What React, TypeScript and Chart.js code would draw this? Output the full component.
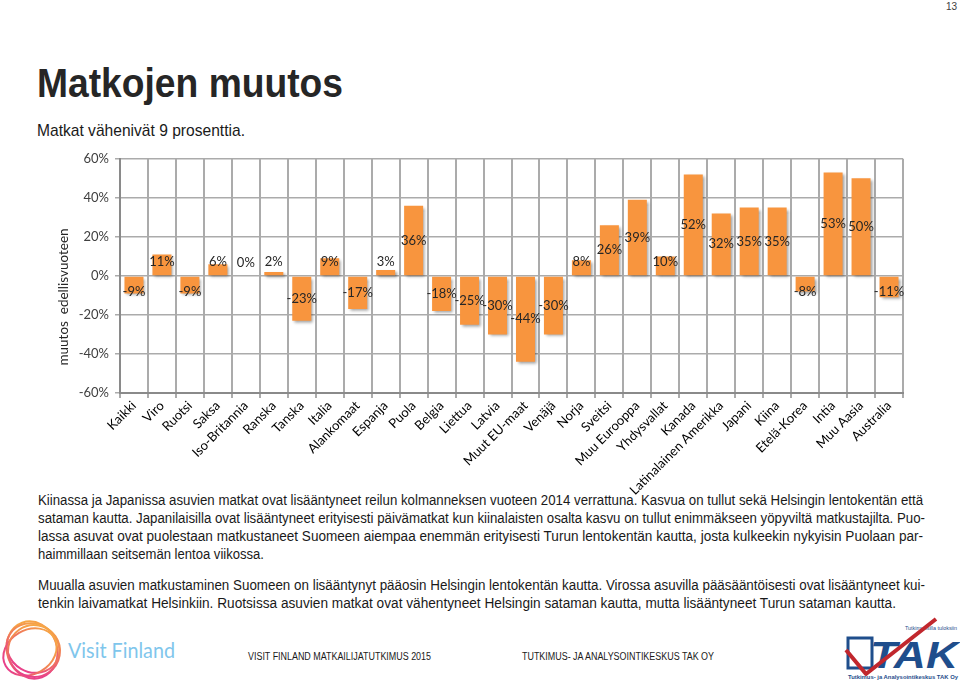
import React, { useEffect, useRef } from "react";
import { Chart, registerables } from "chart.js";

Chart.register(...registerables);

const categories = [
  "Kaikki", "Viro", "Ruotsi", "Saksa", "Iso-Britannia", "Ranska", "Tanska",
  "Italia", "Alankomaat", "Espanja", "Puola", "Belgia", "Liettua", "Latvia",
  "Muut EU-maat", "Venäjä", "Norja", "Sveitsi", "Muu Eurooppa", "Yhdysvallat",
  "Kanada", "Latinalainen Amerikka", "Japani", "Kiina", "Etelä-Korea", "Intia",
  "Muu Aasia", "Australia",
];
const changePct = [
  -9, 11, -9, 6, 0, 2, -23, 9, -17, 3, 36, -18, -25, -30, -44, -30, 8, 26, 39,
  10, 52, 32, 35, 35, -8, 53, 50, -11,
];
const yTicks = [-60, -40, -20, 0, 20, 40, 60];
const yAxisTitle = "muutos  edellisvuoteen";

const pageTitle = "Matkojen muutos";
const pageSubtitle = "Matkat vähenivät 9 prosenttia.";
const paragraphLines = [
  "Kiinassa ja Japanissa asuvien matkat ovat lisääntyneet reilun kolmanneksen vuoteen 2014 verrattuna. Kasvua on tullut sekä Helsingin lentokentän että",
  "sataman kautta. Japanilaisilla ovat lisääntyneet erityisesti päivämatkat kun kiinalaisten osalta kasvu on tullut enimmäkseen yöpyviltä matkustajilta. Puo-",
  "lassa asuvat ovat puolestaan matkustaneet Suomeen aiempaa enemmän erityisesti Turun lentokentän kautta, josta kulkeekin nykyisin Puolaan par-",
  "haimmillaan seitsemän lentoa viikossa.",
  "Muualla asuvien matkustaminen Suomeen on lisääntynyt pääosin Helsingin lentokentän kautta. Virossa asuvilla pääsääntöisesti ovat lisääntyneet kui-",
  "tenkin laivamatkat Helsinkiin. Ruotsissa asuvien matkat ovat vähentyneet Helsingin sataman kautta, mutta lisääntyneet Turun sataman kautta.",
];
const lineBaselines = [505, 523, 541, 559, 590, 608];
const lineEnds = [923, 925, 923, 264, 925, 896];

const footerLeft = "VISIT FINLAND MATKAILIJATUTKIMUS 2015";
const footerRight = "TUTKIMUS- JA ANALYSOINTIKESKUS TAK OY";

const CANVAS_TOP = 145;

function ChartCanvas() {
  const ref = useRef<HTMLCanvasElement | null>(null);
  useEffect(() => {
    const canvas = ref.current;
    if (!canvas) return;

    const barDecor = {
      id: "barDecor",
      beforeDatasetsDraw(chart: any) {
        const ctx = chart.ctx;
        ctx.save();
        ctx.shadowColor = "rgba(0,0,0,0.38)";
        ctx.shadowBlur = 3;
        ctx.shadowOffsetX = 2;
        ctx.shadowOffsetY = 2;
      },
      afterDatasetsDraw(chart: any) {
        const ctx = chart.ctx;
        ctx.restore();
        const meta = chart.getDatasetMeta(0);
        const data = chart.data.datasets[0].data as number[];
        ctx.save();
        ctx.font = "13px Lato";
        ctx.fillStyle = "#262626";
        ctx.textAlign = "center";
        ctx.textBaseline = "middle";
        meta.data.forEach((bar: any, i: number) => {
          const v = data[i];
          const base = bar.base;
          let y = (bar.y + base) / 2;
          if (v >= 0) y = Math.min(y, base - 13);
          else y = Math.max(y, base + 15);
          ctx.fillText(v + "%", bar.x, y);
        });
        ctx.restore();
      },
    };

    const yTitle = {
      id: "yTitle",
      afterDraw(chart: any) {
        const ctx = chart.ctx;
        ctx.save();
        ctx.translate(64, 297 - CANVAS_TOP);
        ctx.rotate(-Math.PI / 2);
        ctx.font = "13.5px Lato";
        ctx.fillStyle = "#262626";
        ctx.textAlign = "center";
        ctx.textBaseline = "middle";
        ctx.fillText(yAxisTitle, 0, 0);
        ctx.restore();
      },
    };

    const chart = new Chart(canvas, {
      type: "bar",
      data: {
        labels: categories,
        datasets: [
          {
            data: changePct,
            backgroundColor: "#F8953E",
            borderWidth: 0,
            barPercentage: 0.68,
            categoryPercentage: 1,
          },
        ],
      },
      options: {
        animation: false,
        responsive: false,
        maintainAspectRatio: false,
        layout: { padding: { left: 40, right: 57, top: 10, bottom: 0 } },
        plugins: {
          legend: { display: false },
          tooltip: { enabled: false },
          title: { display: false },
        },
        scales: {
          x: {
            offset: true,
            grid: {
              display: true,
              drawOnChartArea: true,
              drawTicks: true,
              color: "#ABABAB",
              lineWidth: 2,
              offset: true,
              tickLength: 5,
            },
            border: { display: true, color: "#8A8A8A", width: 2 },
            ticks: {
              autoSkip: false,
              maxRotation: 45,
              minRotation: 45,
              font: { family: "Lato", size: 13 },
              color: "#000000",
              padding: 0,
            },
            afterFit: (s: any) => {
              s.height = 112;
            },
          },
          y: {
            min: -60,
            max: 60,
            afterBuildTicks: (s: any) => {
              s.ticks = yTicks.map((v) => ({ value: v }));
            },
            ticks: {
              callback: (v: any) => v + "%",
              font: { family: "Lato", size: 13 },
              color: "#404040",
              padding: 6,
            },
            grid: { color: "#ABABAB", lineWidth: 1.5, tickLength: 5 },
            border: { display: true, color: "#8A8A8A", width: 2 },
            afterFit: (s: any) => {
              s.width = 80;
            },
          },
        },
      },
      plugins: [barDecor, yTitle],
    } as any);
    return () => chart.destroy();
  }, []);
  return (
    <canvas
      ref={ref}
      width={960}
      height={360}
      style={{ position: "absolute", left: 0, top: CANVAS_TOP, width: 960, height: 360 }}
    />
  );
}

function VisitLogo() {
  const rings = [
    { rx: 25, ry: 29, rot: -20, cx: 32, cy: 650 },
    { rx: 27, ry: 24, rot: 30, cx: 33, cy: 648 },
    { rx: 22, ry: 28, rot: 60, cx: 30, cy: 652 },
    { rx: 26, ry: 26, rot: 10, cx: 34, cy: 651 },
  ];
  return (
    <g>
      <defs>
        <linearGradient id="vfg" x1="0" y1="0" x2="0" y2="1">
          <stop offset="0" stopColor="#F6A646" />
          <stop offset="0.5" stopColor="#F07A5A" />
          <stop offset="1" stopColor="#E8408A" />
        </linearGradient>
      </defs>
      {rings.map((r, i) => (
        <ellipse
          key={i}
          cx={r.cx}
          cy={r.cy}
          rx={r.rx}
          ry={r.ry}
          transform={`rotate(${r.rot} ${r.cx} ${r.cy})`}
          fill="none"
          stroke="url(#vfg)"
          strokeWidth={2}
        />
      ))}
      <text x={68} y={658} fontFamily="Lato" fontSize={21} fill="#7FC6EC" textLength={107} lengthAdjust="spacingAndGlyphs">
        Visit Finland
      </text>
    </g>
  );
}

function TakLogo() {
  return (
    <g>
      <text x={905} y={630} fontFamily="Liberation Sans" fontSize={5} fill="#1F4E8C" textLength={52} lengthAdjust="spacingAndGlyphs">
        Tutkimuksilla tuloksiin
      </text>
      <path d="M 848 638 L 872 638 L 872 668 L 848 668 Z" fill="none" stroke="#1F4E8C" strokeWidth={3} />
      <text x={870} y={668} fontFamily="Liberation Sans" fontWeight="bold" fontStyle="italic" fontSize={36} fill="#1F4E8C" textLength={88} lengthAdjust="spacingAndGlyphs">
        TAK
      </text>
      <path d="M 846 650 L 866 674 L 936 619" fill="none" stroke="#C1272D" strokeWidth={4} strokeLinejoin="round" />
      <text x={848} y={679} fontFamily="Liberation Sans" fontWeight="bold" fontSize={5} fill="#1F4E8C" textLength={110} lengthAdjust="spacingAndGlyphs">
        Tutkimus- ja Analysointikeskus TAK Oy
      </text>
    </g>
  );
}

export default function App() {
  return (
    <div
      style={{
        position: "fixed",
        left: 0,
        top: 0,
        width: 960,
        height: 681,
        overflow: "hidden",
        background: "#ffffff",
      }}
    >
      <svg
        width={960}
        height={681}
        style={{ position: "absolute", left: 0, top: 0 }}
      >
        <text x={946} y={10} fontFamily="Liberation Sans" fontSize={10} fill="#404040">
          13
        </text>
        <text x={37} y={97} fontFamily="Liberation Sans" fontWeight="bold" fontSize={40} fill="#262626" textLength={306} lengthAdjust="spacingAndGlyphs">
          {pageTitle}
        </text>
        <text x={37} y={136} fontFamily="Liberation Sans" fontSize={17} fill="#1a1a1a" textLength={208} lengthAdjust="spacingAndGlyphs">
          {pageSubtitle}
        </text>
        {paragraphLines.map((line, i) => (
          <text
            key={i}
            x={38}
            y={lineBaselines[i]}
            fontFamily="Liberation Sans"
            fontSize={14}
            fill="#1a1a1a"
            textLength={lineEnds[i] - 38}
            lengthAdjust="spacingAndGlyphs"
          >
            {line}
          </text>
        ))}
        <text x={248} y={660} fontFamily="Liberation Sans" fontSize={10} fill="#1a1a1a" textLength={183} lengthAdjust="spacingAndGlyphs">
          {footerLeft}
        </text>
        <text x={522} y={660} fontFamily="Liberation Sans" fontSize={10} fill="#1a1a1a" textLength={192} lengthAdjust="spacingAndGlyphs">
          {footerRight}
        </text>
        <VisitLogo />
        <TakLogo />
      </svg>
      <ChartCanvas />
    </div>
  );
}
